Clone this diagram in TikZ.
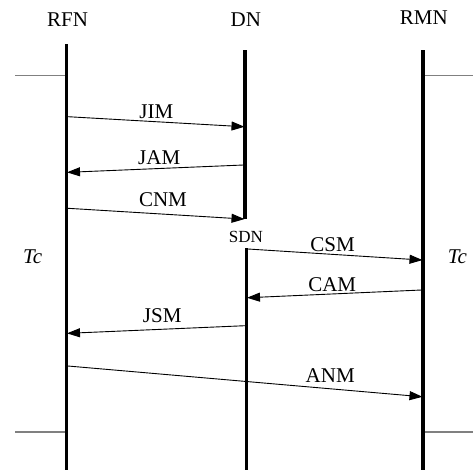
\documentclass[tikz,border=0pt]{standalone}
\usepackage{fontspec}
\setmainfont{Liberation Serif}
\usetikzlibrary{arrows.meta}
\begin{document}
\begin{tikzpicture}[x=1pt,y=-1pt,
  life/.style={line width=3.6pt},
  msg/.style={line width=0.9pt,-{Triangle[length=13pt,width=9pt]},shorten >=-1pt},
  bound/.style={draw=gray,line width=1.3pt},
  lbl/.style={inner sep=0pt,anchor=base,font=\fontsize{21}{25}\selectfont},
  small/.style={inner sep=0pt,anchor=base,font=\fontsize{17}{20}\selectfont}]
\useasboundingbox (0,0) rectangle (473,469);
% lifeline end points
\coordinate (rfnT) at (66.5,44);   \coordinate (rfnB) at (66.5,470);
\coordinate (dnT) at (245,50);     \coordinate (dnB) at (245,219);
\coordinate (sdnT) at (246.5,248); \coordinate (sdnB) at (246.5,470);
\coordinate (rmnT) at (423,50);    \coordinate (rmnB) at (423,470);
% boundary lines
\coordinate (tl1) at (15,75.7);  \coordinate (tl2) at (66.5,75.7);
\coordinate (tr1) at (423,75.7); \coordinate (tr2) at (473,75.7);
\coordinate (bl1) at (15,432);   \coordinate (bl2) at (66.5,432);
\coordinate (br1) at (423,432);  \coordinate (br2) at (473,432);
\draw[bound] (tl1) -- (tl2);
\draw[bound] (tr1) -- (tr2);
\draw[bound] (bl1) -- (bl2);
\draw[bound] (br1) -- (br2);
% message end points
\coordinate (m1a) at (68,116.7);  \coordinate (m1b) at (243.5,126.7);
\coordinate (m2a) at (243.5,165); \coordinate (m2b) at (68,172.3);
\coordinate (m3a) at (68,208.3);  \coordinate (m3b) at (243.5,219);
\coordinate (m4a) at (248,249);   \coordinate (m4b) at (421.5,260);
\coordinate (m5a) at (421.5,290); \coordinate (m5b) at (248,297.7);
\coordinate (m6a) at (245,325.7); \coordinate (m6b) at (68,333.3);
\coordinate (m7a) at (68,366);    \coordinate (m7b) at (421.5,396.7);
\draw[msg] (m1a) -- (m1b);
\draw[msg] (m2a) -- (m2b);
\draw[msg] (m3a) -- (m3b);
\draw[msg] (m4a) -- (m4b);
\draw[msg] (m5a) -- (m5b);
\draw[msg] (m6a) -- (m6b);
\draw[msg] (m7a) -- (m7b);
% lifelines
\draw[life] (rfnT) -- (rfnB);
\draw[life] (dnT) -- (dnB);
\draw[life] (sdnT) -- (sdnB);
\draw[life] (rmnT) -- (rmnB);
% labels
\node[lbl] (rfn) at (67.5,26) {RFN};
\node[lbl] (dn) at (245.8,26) {DN};
\node[lbl] (rmn) at (423.8,24) {RMN};
\node[small] (sdn) at (246,242) {SDN};
\node[lbl] (jim) at (156.3,118.3) {JIM};
\node[lbl] (jam) at (159.2,164) {JAM};
\node[lbl] (cnm) at (163,206.7) {CNM};
\node[lbl] (csm) at (332.5,251) {CSM};
\node[lbl] (cam) at (332.2,291) {CAM};
\node[lbl] (jsm) at (162.2,322) {JSM};
\node[lbl] (anm) at (330.2,382.7) {ANM};
\node[lbl] (tcl) at (32.7,263.3) {\itshape Tc};
\node[lbl] (tcr) at (457.5,263.3) {\itshape Tc};
\end{tikzpicture}
\end{document}
